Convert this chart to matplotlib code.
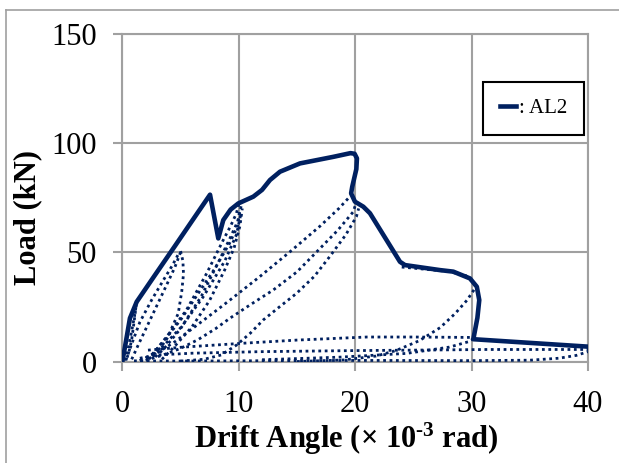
import matplotlib.pyplot as plt
from matplotlib.lines import Line2D

plt.rcParams['font.family'] = ['Liberation Serif', 'DejaVu Serif']
plt.rcParams['mathtext.fontset'] = 'custom'
plt.rcParams['mathtext.rm'] = 'Liberation Serif'
plt.rcParams['mathtext.bf'] = 'Liberation Serif:bold'

# skeleton curve of AL2 (drift angle x10^-3 rad, load kN)
env_x = [0, 0.3, 0.65, 1.23, 2.5, 4.5, 6.5, 7.53, 8.24, 8.67, 9.3, 9.96, 11.25, 12.0, 12.68,
         13.54, 15.26, 18.12, 19.6, 19.95, 20.15, 20.1, 19.75, 19.65, 19.98, 20.7, 21.27,
         23.85, 24.28, 27.29, 28.43, 29.86, 30.45, 30.66, 30.5, 30.15, 40.0]
env_y = [0, 9, 19.8, 27.3, 37.2, 52.7, 68.3, 76.3, 56.3, 64.7, 69.5, 72.3, 75.4, 78.5, 83,
         86.8, 90.6, 93.6, 95.3, 95.0, 92.9, 88, 80, 76.9, 73.1, 70.8, 67.8,
         45.6, 44.1, 41.8, 41.1, 38.0, 34.2, 28.1, 20, 10.2, 6.8]

# repeated cycles (dotted)
up1 = ([0.2, 0.5, 0.8, 1.05, 1.2], [0.5, 6, 14, 21, 26])
dn1 = ([1.2, 1.0, 0.8, 0.55, 0.35], [26, 18, 10, 4, 1])
up5a = ([0.3, 0.8, 1.5, 2.5, 3.5, 4.3, 4.9], [0.5, 8, 18, 28, 37, 44, 50])
up5b = ([0.8, 1.4, 2.2, 3.0, 3.8, 4.5, 5.0], [1, 8, 17, 26, 35, 43, 50])
dn5 = ([5.0, 5.2, 5.25, 5.1, 4.8, 4.3, 3.9, 3.3, 2.8, 2.2],
       [50.5, 46, 40, 32, 22, 16, 11, 6.5, 3.7, 0.7])
up10a = ([2.2, 3.5, 5, 6.5, 8, 9.2, 9.9, 10.1], [1, 9, 19, 31, 43, 54, 62, 70])
up10b = ([3.4, 4.5, 6, 7.5, 8.8, 9.6, 10.1, 10.3], [1, 7, 16, 28, 42, 52, 62, 70])
up10c = ([1.5, 2.5, 3.5, 5.1, 7.0, 8.8, 9.8, 10.2], [0.3, 3, 7, 16, 30, 46, 58, 68])
dn10a = ([10.0, 9.8, 9.3, 8.67, 7.24, 5.5, 3.8, 2.65, 2.0],
         [72, 67.8, 62, 55.6, 40.3, 23.5, 11.3, 3.7, 1])
dn10b = ([10.2, 9.9, 9.3, 8.3, 6.8, 5.0, 3.6, 2.8], [71, 64, 57, 46, 30, 15, 6, 2])
up20a = ([1.5, 3, 4.5, 6, 7.5, 9.24, 11.8, 14.4, 17, 18.6, 19.4],
         [0.5, 4, 9, 15, 21, 28.1, 38.8, 50.2, 62, 70, 74.6])
up20b = ([2, 3.5, 5, 6.5, 8, 9.24, 11, 12.96, 15, 16.7, 18.5, 19.84, 20.1],
         [0.5, 3, 6, 10, 15, 19.8, 26, 32.7, 41, 50.2, 60, 68.5, 73])
up20c = ([5, 7, 8.5, 9.8, 11, 12.1, 13.5, 14.97, 16.5, 17.8, 19.2, 20.1, 20.3],
         [0.2, 1, 3, 7.5, 13, 19, 25, 31.2, 39, 47.9, 58, 66.2, 70])
h1 = ([2.2, 5, 10.5, 15, 21, 25, 30.2], [5.2, 6.5, 8.4, 9.8, 11.2, 11.2, 11.0])
h2 = ([1.5, 3, 6, 11.8, 20, 27.3, 31.3, 36, 40], [1.5, 3, 3.8, 4.5, 5, 5.3, 5.5, 5.5, 5.5])
h3 = ([1, 5, 10, 20, 30, 35, 37.5, 39, 40], [0.3, 0.2, 0.3, 0.5, 0.4, 0.6, 1.5, 2.8, 4.5])
g30 = ([12, 18.7, 24.4, 28.1, 29.7, 30.15], [0.8, 2, 3.7, 6.6, 9, 10.3])
up30 = ([15, 19, 21.8, 23.5, 25.5, 27.3, 28.6, 29.6, 30.3], [0, 0.7, 2.5, 5, 9.5, 15.5, 22, 28, 33.5])
env30 = ([24.0, 26, 28, 29.5, 30.2, 30.4], [43.2, 42.2, 41.2, 39.3, 36, 33.5])

cycles = [up1, dn1, up5a, up5b, dn5, up10a, up10b, up10c, dn10a, dn10b,
          up20a, up20b, up20c, h1, h2, h3, g30, up30, env30]

navy = '#002060'
grey = '#a0a0a0'

fig = plt.figure(figsize=(6.19, 4.63), dpi=100)
ax = fig.add_axes([0.1977, 0.2192, 0.7522, 0.7084])

for cx, cy in cycles:
    ax.plot(cx, cy, color=navy, lw=2.0, linestyle=(0, (1, 1.3)), zorder=3)
ax.plot(env_x, env_y, color=navy, lw=3.3, solid_joinstyle='round', label=': AL2', zorder=4)

ax.set_xlim(0, 40)
ax.set_ylim(0, 150)
ax.set_xticks([0, 10, 20, 30, 40])
ax.set_yticks([0, 50, 100, 150])
ax.grid(True, color=grey, lw=1.5)
for s in ax.spines.values():
    s.set_color(grey)
    s.set_linewidth(1.5)
ax.tick_params(axis='both', direction='out', length=6.5, width=1.5, color=grey, labelsize=22)
ax.tick_params(axis='x', pad=14)
ax.tick_params(axis='y', pad=12)

ax.set_xlabel('Drift Angle (\u00d7 10$\\mathbf{^{\u20103}}$ rad)', fontsize=22, fontweight='bold')
ax.set_ylabel('Load (kN)', fontsize=22, fontweight='bold')
ax.xaxis.set_label_coords(0.48, -0.18)
ax.yaxis.set_label_coords(-0.172, 0.44)

leg = ax.legend(loc='center left', bbox_to_anchor=(0.752, 0.771), fontsize=15,
                handlelength=0.8, handletextpad=0.15, borderpad=0.8,
                fancybox=False, framealpha=1, edgecolor='black')
leg.get_frame().set_linewidth(1.5)

# outer chart border
fig.add_artist(Line2D([6 / 619, 1], [1 - 10 / 463, 1 - 10 / 463], color=grey, lw=1.2))
fig.add_artist(Line2D([6 / 619, 6 / 619], [0, 1 - 10 / 463], color=grey, lw=1.2))

fig.savefig('out.png', dpi=100)
